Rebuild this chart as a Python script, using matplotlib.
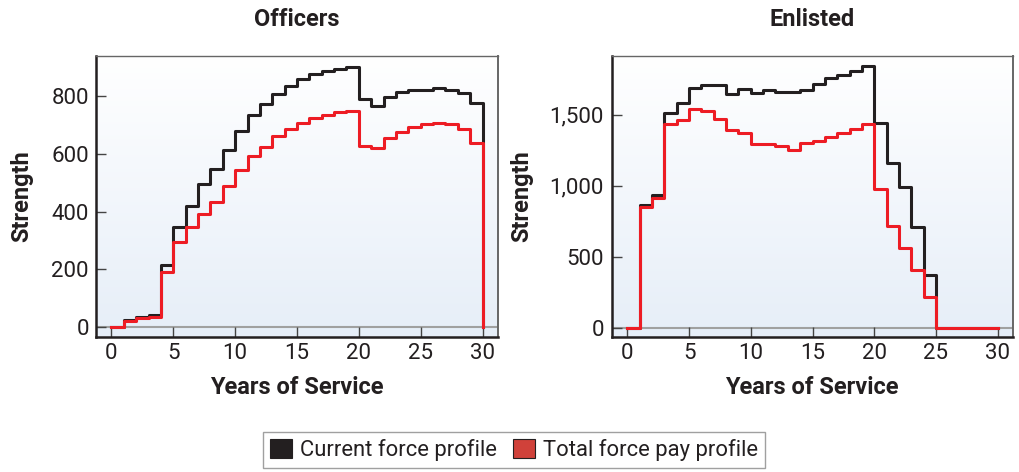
import matplotlib
matplotlib.use("Agg")
import matplotlib.pyplot as plt
import numpy as np
from matplotlib.patches import Patch
from matplotlib.ticker import FuncFormatter
from matplotlib.colors import LinearSegmentedColormap

plt.rcParams['font.family'] = ['Roboto', 'DejaVu Sans']

years = list(range(31))

officers_current = [0, 25, 37, 42, 215, 347, 420, 497, 549, 615, 680, 734, 772, 809, 837,
                    860, 876, 887, 895, 903, 790, 767, 798, 814, 822, 823, 828, 823, 811, 778, 0]
officers_pay = [0, 23, 31, 37, 192, 297, 347, 391, 433, 490, 545, 594, 626, 663, 687,
                709, 725, 736, 745, 751, 629, 621, 655, 677, 693, 703, 708, 703, 686, 637, 0]

enlisted_current = [0, 864, 939, 1509, 1582, 1688, 1706, 1709, 1648, 1683, 1652, 1673, 1657, 1662, 1676,
                    1716, 1758, 1777, 1805, 1840, 1439, 1159, 995, 709, 373, 0, 0, 0, 0, 0, 0]
enlisted_pay = [0, 854, 915, 1436, 1465, 1542, 1528, 1469, 1394, 1375, 1293, 1295, 1277, 1253, 1298,
                1312, 1345, 1373, 1399, 1432, 976, 721, 566, 411, 218, 0, 0, 0, 0, 0, 0]

titles = ["Officers", "Enlisted"]
xlabel = "Years of Service"
ylabel = "Strength"
legend_labels = ["Current force profile", "Total force pay profile"]
officer_yticks = [0, 200, 400, 600, 800]
enlisted_yticks = [0, 500, 1000, 1500]
xticks = [0, 5, 10, 15, 20, 25, 30]

BLACK = "#231f20"
RED = "#ed1c24"
TXT = "#231f20"

W, H = 1019, 472
fig = plt.figure(figsize=(W / 100, H / 100), dpi=100)

def px_axes(l, t, r, b):
    return fig.add_axes([l / W, 1 - b / H, (r - l) / W, (b - t) / H])

def ftext(x, y, s, **kw):
    return fig.text(x / W, 1 - y / H, s, **kw)

ax1 = px_axes(96, 56, 498, 337)
ax2 = px_axes(612, 56, 1013, 337)

grad = np.linspace(0, 1, 256).reshape(-1, 1)
cmap = LinearSegmentedColormap.from_list("bg", ["#e6eef8", "#ffffff"])

configs = [
    (ax1, officers_current, officers_pay, officer_yticks, (-34, 940), titles[0], 297, 33, 7),
    (ax2, enlisted_current, enlisted_pay, enlisted_yticks, (-63, 1913), titles[1], 812, 533, 8),
]

for ax, cur, pay, yt, ylim, title, cx, ylx, ypad in configs:
    ax.imshow(grad, cmap=cmap, origin='lower', extent=(0, 1, 0, 1),
              transform=ax.transAxes, aspect='auto', zorder=0)
    ax.axhline(0, color="#a0a0a0", lw=1.5, zorder=1)
    ax.step(years, cur, where='post', color=BLACK, lw=2.2, zorder=3)
    ax.step(years, pay, where='post', color=RED, lw=2.2, zorder=4)
    ax.set_xlim(-1.25, 31.25)
    ax.set_ylim(*ylim)
    ax.set_xticks(xticks)
    ax.set_yticks(yt)
    ax.yaxis.set_major_formatter(FuncFormatter(lambda v, p: f"{int(v):,}"))
    ax.tick_params(direction='in', length=7, width=1.0, color="#444444",
                   labelsize=16, labelcolor=TXT)
    ax.tick_params(axis='x', pad=4)
    ax.tick_params(axis='y', pad=ypad * 0.72)
    for s in ['left', 'bottom']:
        ax.spines[s].set_color(BLACK)
        ax.spines[s].set_linewidth(1.8)
    ax.spines['top'].set_color("#666666")
    ax.spines['top'].set_linewidth(1.0)
    ax.spines['right'].set_color("#666666")
    ax.spines['right'].set_linewidth(1.4)
    ftext(cx, 20, title, fontsize=17, fontweight='bold', color=TXT, ha='center', va='center')
    ftext(cx, 387, xlabel, fontsize=17, fontweight='bold', color=TXT, ha='center', va='center')
    ftext(ylx, 196, ylabel, fontsize=17, fontweight='bold', color=TXT, ha='right', va='center',
          rotation=90)

handles = [Patch(facecolor=BLACK, edgecolor="#231f20", lw=0.8),
           Patch(facecolor="#d0413a", edgecolor="#231f20", lw=0.8)]
leg = fig.legend(handles, legend_labels, loc='center', bbox_to_anchor=(514 / W, 1 - 450 / H),
                 ncol=2, fontsize=15.8, frameon=True, fancybox=False, handlelength=1.0,
                 handleheight=1.0, handletextpad=0.4, columnspacing=0.7, borderpad=0.3)
leg.get_frame().set_edgecolor("#888888")
leg.get_frame().set_linewidth(1.0)
for t in leg.get_texts():
    t.set_color(TXT)

fig.savefig("out.png", dpi=100)
